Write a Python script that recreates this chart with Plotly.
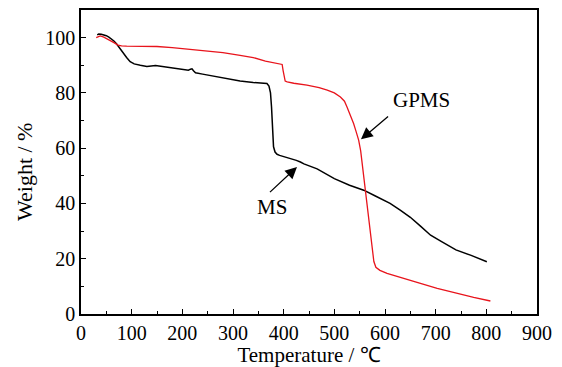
import plotly.graph_objects as go

# MS (black) TGA curve
ms_temp = [32, 35, 40, 45, 50, 55, 60, 65, 70, 75, 80, 85, 90, 97, 105, 117, 130, 147, 160, 176,
           190, 203, 212, 216, 219, 222, 226, 240, 262, 290, 314, 340, 367, 371, 374, 376, 377,
           378, 380, 383, 387, 392, 400, 413, 425, 433, 440, 466, 500, 530, 558, 580, 610, 630,
           650, 670, 690, 710, 740, 770, 801]
ms_weight = [101.0, 101.3, 101.2, 101.0, 100.7, 100.2, 99.6, 98.8, 97.8, 96.5, 95.3, 94.0, 92.8,
             91.3, 90.5, 90.0, 89.6, 89.9, 89.6, 89.2, 88.7, 88.4, 88.2, 88.6, 88.7, 88.0, 87.3,
             86.8, 86.1, 85.2, 84.3, 83.8, 83.4, 82.5, 80.0, 75.0, 70.0, 65.0, 60.5, 58.6, 57.8,
             57.4, 57.0, 56.3, 55.6, 55.0, 54.3, 52.5, 49.0, 46.6, 44.8, 42.8, 40.0, 37.6, 35.0,
             31.8, 28.5, 26.4, 23.2, 21.2, 18.9]

# GPMS (red) TGA curve
gp_temp = [30, 34, 38, 45, 55, 65, 73, 80, 90, 100, 120, 150, 180, 210, 250, 280, 314, 340, 364,
           385, 397, 399, 401, 403, 407, 420, 446, 470, 486, 500, 512, 520, 525, 532, 538, 543,
           548, 552, 555, 560, 565, 570, 575, 578, 582, 590, 604, 630, 660, 703, 740, 775, 808]
gp_weight = [100.0, 100.4, 100.6, 100.2, 99.3, 98.2, 97.3, 97.0, 96.9, 96.9, 96.9, 96.8, 96.4,
             95.8, 95.2, 94.6, 93.6, 92.8, 91.5, 90.8, 90.3, 88.0, 85.5, 84.3, 84.0, 83.5, 82.8,
             81.9, 81.0, 80.0, 78.5, 77.0, 74.9, 72.0, 68.9, 66.0, 62.9, 59.0, 54.5, 47.0, 39.0,
             31.0, 23.0, 19.0, 16.9, 15.8, 14.7, 13.2, 11.6, 9.3, 7.5, 6.0, 4.7]

x_ticks = [0, 100, 200, 300, 400, 500, 600, 700, 800, 900]
y_ticks = [0, 20, 40, 60, 80, 100]

FONT = "Liberation Serif"

fig = go.Figure()
fig.add_trace(go.Scatter(x=ms_temp, y=ms_weight, mode="lines", name="MS",
                         line=dict(color="black", width=1.5)))
fig.add_trace(go.Scatter(x=gp_temp, y=gp_weight, mode="lines", name="GPMS",
                         line=dict(color="#e8141c", width=1.3)))

# curve labels with arrows
fig.add_annotation(x=672, y=77.3, xref="x", yref="y", text="GPMS", showarrow=False,
                   font=dict(size=21, family=FONT, color="black"))
fig.add_annotation(x=552.6, y=63.2, ax=609, ay=71.9, xref="x", yref="y", axref="x", ayref="y",
                   text="", showarrow=True, arrowhead=2, arrowsize=1.8, arrowwidth=1.3,
                   arrowcolor="black")
fig.add_annotation(x=377, y=38.8, xref="x", yref="y", text="MS", showarrow=False,
                   font=dict(size=21, family=FONT, color="black"))
fig.add_annotation(x=426.3, y=53.2, ax=370, ay=43.6, xref="x", yref="y", axref="x", ayref="y",
                   text="", showarrow=True, arrowhead=2, arrowsize=1.8, arrowwidth=1.3,
                   arrowcolor="black")

# y-axis title (placed slightly below the axis centre, as in the reference)
fig.add_annotation(x=0, y=0.5, xref="paper", yref="paper", xshift=-57, yshift=-10,
                   text="Weight / %", textangle=-90, showarrow=False,
                   xanchor="center", yanchor="middle",
                   font=dict(size=22, family=FONT, color="black"))

axis_common = dict(showline=True, linecolor="black", linewidth=1.5, mirror=True,
                   ticks="inside", ticklen=5, tickwidth=1.2, tickcolor="black",
                   showgrid=False, zeroline=False, automargin=False,
                   tickfont=dict(size=20, family=FONT, color="black"))

fig.update_xaxes(range=[0, 900], tickvals=x_ticks, ticktext=[str(v) for v in x_ticks],
                 minor=dict(ticks="inside", dtick=50, ticklen=3, tickwidth=1.2, tickcolor="black"),
                 title=dict(text="Temperature / ℃", font=dict(size=21, family=FONT, color="black"),
                            standoff=0),
                 **axis_common)
fig.update_yaxes(range=[0, 110], tickvals=y_ticks, ticktext=[str(v) for v in y_ticks],
                 minor=dict(ticks="inside", dtick=10, ticklen=3, tickwidth=1.2, tickcolor="black"),
                 **axis_common)

# page body has an 8px default margin, so the figure is drawn 8px in from the top-left
fig.update_layout(width=554, height=359, margin=dict(l=73, r=25, t=2, b=53),
                  plot_bgcolor="white", paper_bgcolor="white", showlegend=False,
                  font=dict(family=FONT, color="black"))

fig.write_html("out.html")
